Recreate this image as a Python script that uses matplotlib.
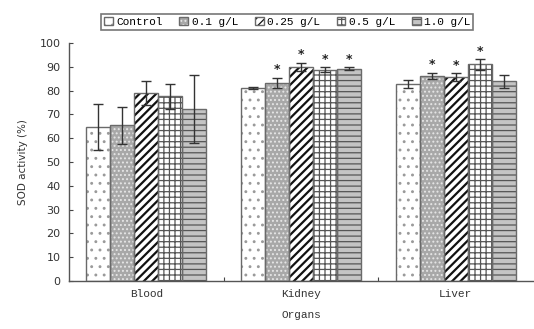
import numpy as np
import matplotlib
matplotlib.use("Agg")
import matplotlib.pyplot as plt

organs = ["Blood", "Kidney", "Liver"]
doses = ["Control", "0.1 g/L", "0.25 g/L", "0.5 g/L", "1.0 g/L"]

# mean SOD activity (%) per organ, one list per dose
control = [64.7, 81.2, 82.8]
dose_01 = [65.5, 83.3, 86.2]
dose_025 = [79.0, 90.0, 85.8]
dose_05 = [77.6, 88.9, 91.1]
dose_10 = [72.4, 89.3, 83.9]

# standard deviations
control_sd = [9.8, 0.5, 1.5]
dose_01_sd = [7.8, 2.2, 1.4]
dose_025_sd = [5.0, 1.8, 1.6]
dose_05_sd = [5.2, 1.2, 2.2]
dose_10_sd = [14.2, 0.6, 2.6]

# significance flags (1 = marked with an asterisk)
control_sig = [0, 0, 0]
dose_01_sig = [0, 1, 1]
dose_025_sig = [0, 1, 1]
dose_05_sig = [0, 1, 1]
dose_10_sig = [0, 1, 0]

means = [control, dose_01, dose_025, dose_05, dose_10]
sds = [control_sd, dose_01_sd, dose_025_sd, dose_05_sd, dose_10_sd]
sigs = [control_sig, dose_01_sig, dose_025_sig, dose_05_sig, dose_10_sig]

styles = [
    dict(facecolor="white", hatch="..", hcolor="#9a9a9a", hlw=0.9),
    dict(facecolor="#a8a8a8", hatch="....", hcolor="#e6e6e6", hlw=0.9),
    dict(facecolor="white", hatch="////", hcolor="#111111", hlw=1.6),
    dict(facecolor="white", hatch="+++", hcolor="#555555", hlw=0.9),
    dict(facecolor="#c4c4c4", hatch="---", hcolor="#555555", hlw=0.9),
]

label_font = "Liberation Mono"

fig = plt.figure(figsize=(5.34, 3.29), dpi=100)
ax = fig.add_axes([0.129, 0.146, 0.869, 0.723])

n = len(doses)
bar_w = 0.155
x = np.arange(len(organs))
handles = []
for i in range(n):
    st = styles[i]
    pos = x + (i - (n - 1) / 2) * bar_w
    plt.rcParams["hatch.linewidth"] = st["hlw"]
    filled = ax.bar(pos, means[i], width=bar_w, facecolor=st["facecolor"],
                    edgecolor=st["hcolor"], hatch=st["hatch"], linewidth=0,
                    zorder=2)
    # outline drawn separately so the hatch colour can differ
    outline = ax.bar(pos, means[i], width=bar_w, facecolor="none",
                     edgecolor="#6a6a6a", linewidth=1.0, zorder=3)
    ax.errorbar(pos, means[i], yerr=sds[i], fmt="none", ecolor="#333333",
                elinewidth=1.0, capsize=3.5, capthick=1.0, zorder=4)
    for p, m, s, f in zip(pos, means[i], sds[i], sigs[i]):
        if f:
            ax.text(p, m + s + 3.2, "*", ha="center", va="center",
                    fontsize=9, fontweight="bold", color="#222222")
    handles.append((filled.patches[0], outline.patches[0]))

ax.set_xlim(-0.5, 2.5)
ax.set_ylim(0, 100)
ax.set_yticks(np.arange(0, 101, 10))
ax.set_xticks([0.5, 1.5])
ax.set_xticklabels([])
ax.tick_params(axis="y", direction="in", length=3, width=0.8, color="#444444",
               labelsize=8, labelcolor="#333333", pad=6)
ax.tick_params(axis="x", direction="in", length=3, width=0.8, color="#444444")
for side in ("top", "right"):
    ax.spines[side].set_visible(False)
for side in ("left", "bottom"):
    ax.spines[side].set_color("#555555")
    ax.spines[side].set_linewidth(1.0)

for xi, name in zip(x, organs):
    ax.text(xi, -5.5, name, ha="center", va="center", fontsize=8,
            family=label_font, color="#333333")
ax.text(1.0, -14.5, "Organs", ha="center", va="center", fontsize=8,
        family=label_font, color="#333333")
ax.set_ylabel("SOD activity (%)", fontsize=7.5, color="#333333", labelpad=8)

leg = fig.legend(handles=handles, labels=doses, loc="center",
                 bbox_to_anchor=(0.538, 0.934), ncol=5, frameon=True,
                 fancybox=False, edgecolor="#555555", handlelength=0.8,
                 handleheight=0.8, handletextpad=0.3, columnspacing=1.5,
                 borderpad=0.25, prop={"family": label_font, "size": 8})
leg.get_frame().set_linewidth(1.2)

fig.savefig("out.png", dpi=100)
